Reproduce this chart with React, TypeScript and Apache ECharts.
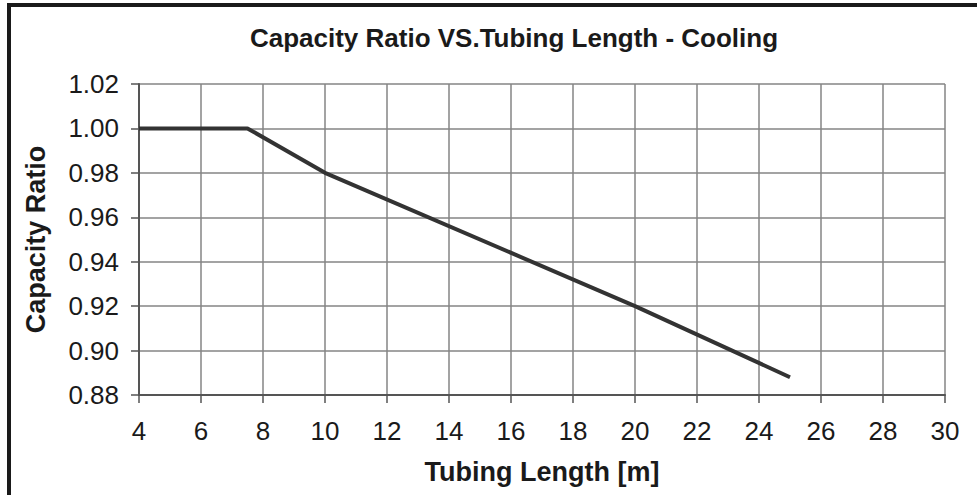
import React, { useEffect, useRef } from "react";
import * as echarts from "echarts";

const titleText = "Capacity Ratio VS.Tubing Length - Cooling";
const xAxisName = "Tubing Length [m]";
const yAxisName = "Capacity Ratio";
const tubingLength = [4, 7.5, 10, 20, 25];
const capacityRatio = [1.0, 1.0, 0.98, 0.92, 0.888];

const FONT = "'Liberation Sans', Arial, Helvetica, sans-serif";

export default function App() {
  const ref = useRef<HTMLDivElement>(null);
  useEffect(() => {
    if (!ref.current) return;
    const chart = echarts.init(ref.current, null, { renderer: "svg" });
    const data = tubingLength.map((x, i) => [x, capacityRatio[i]]);
    chart.setOption({
      animation: false,
      backgroundColor: "#ffffff",
      graphic: [
        {
          type: "rect",
          shape: { x: 9, y: 5, width: 1100, height: 1000 },
          style: { fill: "none", stroke: "#1a1a1a", lineWidth: 4 },
          silent: true,
        },
        {
          type: "text",
          x: 514,
          y: 38,
          style: {
            text: titleText,
            font: `bold 26px ${FONT}`,
            fill: "#1a1a1a",
            textAlign: "center",
            textVerticalAlign: "middle",
          },
        },
      ],
      grid: { left: 139, right: 32, top: 84, bottom: 100, containLabel: false },
      xAxis: {
        type: "value",
        min: 4,
        max: 30,
        interval: 2,
        name: xAxisName,
        nameLocation: "middle",
        nameGap: 63,
        nameTextStyle: { fontFamily: FONT, fontSize: 27, fontWeight: "bold", color: "#1a1a1a", verticalAlign: "top" },
        axisLine: { show: true, lineStyle: { color: "#555", width: 2 } },
        axisTick: { show: true, length: 8, lineStyle: { color: "#555", width: 1.5 } },
        axisLabel: { margin: 23, fontFamily: FONT, fontSize: 26, color: "#1a1a1a" },
        splitLine: { show: true, lineStyle: { color: "#858585", width: 1.5 } },
      },
      yAxis: {
        type: "value",
        min: 0.88,
        max: 1.02,
        interval: 0.02,
        name: yAxisName,
        nameLocation: "middle",
        nameGap: 90,
        nameTextStyle: { fontFamily: FONT, fontSize: 27, fontWeight: "bold", color: "#1a1a1a" },
        axisLine: { show: true, lineStyle: { color: "#555", width: 2 } },
        axisTick: { show: true, length: 8, lineStyle: { color: "#555", width: 1.5 } },
        axisLabel: {
          margin: 20,
          fontFamily: FONT,
          fontSize: 26,
          color: "#1a1a1a",
          formatter: (v: number) => v.toFixed(2),
        },
        splitLine: { show: true, lineStyle: { color: "#858585", width: 1.5 } },
      },
      series: [
        {
          type: "line",
          data,
          showSymbol: false,
          symbol: "none",
          lineStyle: { color: "#333333", width: 4 },
        },
      ],
    });
    return () => chart.dispose();
  }, []);
  return (
    <div
      ref={ref}
      style={{ position: "absolute", left: 0, top: 0, width: 977, height: 495, background: "#fff" }}
    />
  );
}
